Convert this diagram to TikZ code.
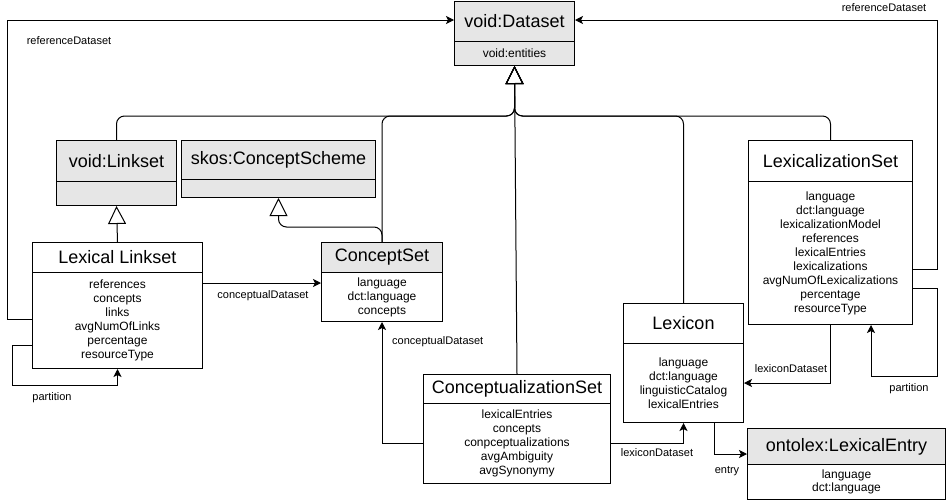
\documentclass[tikz,border=0pt]{standalone}
\usepackage{fontspec}
\setmainfont{Liberation Sans}
\usetikzlibrary{arrows.meta}
\definecolor{hdr}{RGB}{230,230,230}
\begin{document}
\begin{tikzpicture}[x=1pt,y=-1pt,
  hd/.style={draw=black, line width=1pt, anchor=north west, inner sep=0pt, font=\fontsize{18}{20}\selectfont},
  bd/.style={draw=black, line width=1pt, anchor=north west, inner sep=0pt, align=center, font=\fontsize{12}{14}\selectfont},
  lbl/.style={inner sep=0pt, font=\fontsize{11}{13}\selectfont},
  arr/.style={draw=black, line width=1pt, -{Stealth[length=8pt,width=8pt,inset=2pt]}},
  gen/.style={draw=black, line width=1pt, rounded corners=8pt, -{Triangle[open,length=18pt,width=18pt]}}
]
\useasboundingbox (0,0) rectangle (946,501);

% void:Dataset
\node[hd, fill=hdr, minimum width=120pt, minimum height=40pt] (ds) at (454,1) {void:Dataset};
\node[bd, fill=hdr, minimum width=120pt, minimum height=24pt] (dsb) at (454,41) {void:entities};

% void:Linkset
\node[hd, fill=hdr, minimum width=120pt, minimum height=41pt] (vl) at (56,140) {void:Linkset};
\node[bd, fill=hdr, minimum width=120pt, minimum height=24pt] (vlb) at (56,181) {};

% skos:ConceptScheme
\node[hd, fill=hdr, minimum width=194pt, minimum height=39pt] (sk) at (181,140) {skos:ConceptScheme};
\node[bd, fill=hdr, minimum width=194pt, minimum height=18pt] (skb) at (181,179) {};

% Lexical Linkset
\node[hd, fill=white, minimum width=170pt, minimum height=30pt] (ll) at (32,242) {Lexical Linkset};
\node[bd, fill=white, minimum width=170pt, minimum height=96pt] (llb) at (32,272) {references\\concepts\\links\\avgNumOfLinks\\percentage\\resourceType};

% ConceptSet
\node[hd, fill=hdr, minimum width=121pt, minimum height=30pt] (cs) at (321,242) {ConceptSet};
\node[bd, fill=white, minimum width=121pt, minimum height=49pt] (csb) at (321,272) {language\\dct:language\\concepts};

% ConceptualizationSet
\node[hd, fill=white, minimum width=187pt, minimum height=29pt] (cz) at (423,374) {ConceptualizationSet};
\node[bd, fill=white, minimum width=187pt, minimum height=80pt] (czb) at (423,403) {lexicalEntries\\concepts\\conpceptualizations\\avgAmbiguity\\avgSynonymy};

% Lexicon
\node[hd, fill=white, minimum width=120pt, minimum height=40pt] (lx) at (623,303) {Lexicon};
\node[bd, fill=white, minimum width=120pt, minimum height=79pt] (lxb) at (623,343) {language\\dct:language\\linguisticCatalog\\lexicalEntries};

% LexicalizationSet
\node[hd, fill=white, minimum width=164pt, minimum height=41pt] (ls) at (748,140) {LexicalizationSet};
\node[bd, fill=white, minimum width=164pt, minimum height=143pt] (lsb) at (748,181) {language\\dct:language\\lexicalizationModel\\references\\lexicalEntries\\lexicalizations\\avgNumOfLexicalizations\\percentage\\resourceType};

% ontolex:LexicalEntry
\node[hd, fill=hdr, minimum width=198pt, minimum height=36pt] (oe) at (747,428) {ontolex:LexicalEntry};
\node[bd, fill=white, minimum width=198pt, minimum height=35pt, font=\fontsize{12}{13}\selectfont] (oeb) at (747,464) {language\\dct:language};

% generalizations to void:Dataset
\draw[gen] (vl.north) -- (vl.north |- 0,116) -- (dsb.south |- 0,116) -- (dsb.south);
\draw[gen] (cs.north) -- (cs.north |- 0,116) -- (dsb.south |- 0,116) -- (dsb.south);
\draw[gen] (lx.north) -- (lx.north |- 0,116) -- (dsb.south |- 0,116) -- (dsb.south);
\draw[gen] (ls.north) -- (ls.north |- 0,116) -- (dsb.south |- 0,116) -- (dsb.south);
\draw[gen] (cz.north) -- (dsb.south);
% other generalizations
\draw[gen] (ll.north) -- (vlb.south);
\draw[gen] (cs.north) -- (cs.north |- 0,227) -- (skb.south |- 0,227) -- (skb.south);

% associations
\coordinate (rl1) at (7,319);
\coordinate (rl2) at (7,20);
\draw[arr] (llb.west |- rl1) -- (rl1) -- (rl2) -- (ds.west |- rl2);
\node[lbl] (lrl) at (69,41) {referenceDataset};

\coordinate (rr1) at (937,269);
\coordinate (rr2) at (937,20);
\draw[arr] (lsb.east |- rr1) -- (rr1) -- (rr2) -- (ds.east |- rr2);
\node[lbl] (lrr) at (884,8) {referenceDataset};

\coordinate (pl1) at (12,345);
\coordinate (pl2) at (12,385);
\draw[arr] (llb.west |- pl1) -- (pl1) -- (pl2) -- (llb.south |- pl2) -- (llb.south);
\node[lbl] (lpl) at (52,398) {partition};

\coordinate (pr1) at (937,288);
\coordinate (pr2) at (937,376);
\coordinate (pr3) at (871,376);
\draw[arr] (lsb.east |- pr1) -- (pr1) -- (pr2) -- (pr3) -- (pr3 |- lsb.south);
\node[lbl] (lpr) at (909,389) {partition};

\coordinate (cd1) at (0,283);
\draw[arr] (llb.east |- cd1) -- (csb.west |- cd1);
\node[lbl] (lcd1) at (263,296) {conceptualDataset};

\coordinate (cd2) at (0,443);
\draw[arr] (czb.west |- cd2) -- (csb.south |- cd2) -- (csb.south);
\node[lbl, anchor=west] (lcd2) at (392,342) {conceptualDataset};

\draw[arr] (czb.east |- cd2) -- (lxb.south |- cd2) -- (lxb.south);
\node[lbl] (lld1) at (657,453) {lexiconDataset};

\coordinate (ld2) at (0,383);
\draw[arr] (lsb.south) -- (lsb.south |- ld2) -- (lxb.east |- ld2);
\node[lbl] (lld2) at (791,369) {lexiconDataset};

\coordinate (en1) at (714,454);
\draw[arr] (lxb.south -| en1) -- (en1) -- (oe.west |- en1);
\node[lbl] (len) at (727,471) {entry};
\end{tikzpicture}
\end{document}
